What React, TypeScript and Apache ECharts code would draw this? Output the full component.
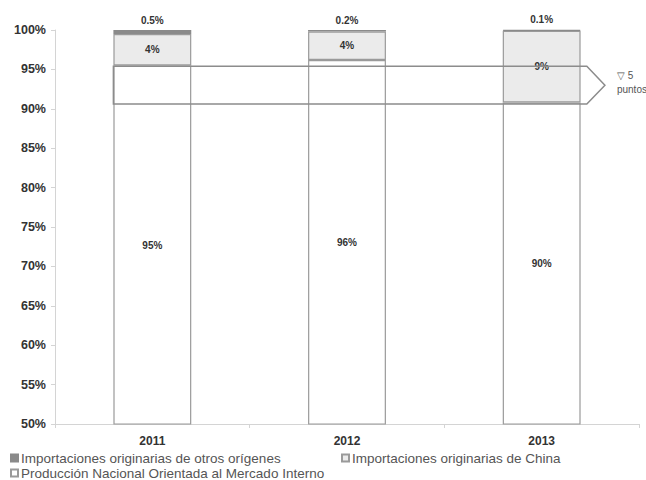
import React, { useEffect, useRef } from "react";
import * as echarts from "echarts";

const categories = ["2011", "2012", "2013"];
const produccion = [95.5, 96.2, 90.8];
const china = [4.0, 3.6, 9.1];
const otros = [0.5, 0.2, 0.1];
const produccionLabels = ["95%", "96%", "90%"];
const chinaLabels = ["4%", "4%", "9%"];
const otrosLabels = ["0.5%", "0.2%", "0.1%"];
const yTicks = { min: 50, max: 100, interval: 5 };
const arrowRange = [90.6, 95.4];
const arrowText = ["\u25BD 5", "puntos"];

const nameOtros = "Importaciones originarias de otros orígenes";
const nameChina = "Importaciones originarias de China";
const nameProd = "Producción Nacional Orientada al Mercado Interno";

const FONT = "Liberation Sans, Arial, sans-serif";

export default function App() {
  const ref = useRef<HTMLDivElement>(null);
  useEffect(() => {
    if (!ref.current) return;
    const chart = echarts.init(ref.current, null, { renderer: "svg" });
    const border = "#9a9a9a";
    const labelStyle = {
      show: true,
      fontFamily: FONT,
      fontSize: 10,
      fontWeight: "bold" as const,
      color: "#333",
    };
    const legendCommon = {
      orient: "horizontal" as const,
      icon: "rect",
      itemWidth: 7,
      itemHeight: 7,
      itemGap: 4,
      textStyle: {
        fontFamily: FONT,
        fontSize: 13.5,
        lineHeight: 14,
        color: "#555",
        padding: [0, 0, 0, -2],
      },
      padding: 0,
    };
    chart.setOption({
      animation: false,
      textStyle: { fontFamily: FONT },
      grid: { left: 55, right: 7, top: 30, bottom: 56 },
      legend: [
        { ...legendCommon, data: [nameOtros], left: 10, top: 451 },
        { ...legendCommon, data: [nameChina], left: 341, top: 451 },
        { ...legendCommon, data: [nameProd], left: 10, top: 466 },
      ],
      xAxis: {
        type: "category",
        data: categories,
        axisLine: { lineStyle: { color: "#d4d4d4", width: 1 } },
        axisTick: { show: true, length: 4, lineStyle: { color: "#d4d4d4" } },
        axisLabel: {
          fontFamily: FONT,
          fontSize: 12,
          fontWeight: "bold",
          color: "#333",
          margin: 11,
        },
      },
      yAxis: {
        type: "value",
        min: yTicks.min,
        max: yTicks.max,
        interval: yTicks.interval,
        axisLine: { show: true, lineStyle: { color: "#d4d4d4" } },
        axisTick: { show: true, length: 4, lineStyle: { color: "#d4d4d4" } },
        splitLine: { show: false },
        axisLabel: {
          formatter: "{value}%",
          fontFamily: FONT,
          fontSize: 12.5,
          fontWeight: "bold",
          color: "#333",
          margin: 9,
        },
      },
      series: [
        {
          name: nameProd,
          type: "bar",
          stack: "total",
          barWidth: "40%",
          data: produccion,
          itemStyle: { color: "#ffffff", borderColor: border, borderWidth: 1.2 },
          label: {
            ...labelStyle,
            position: "inside",
            formatter: (p: any) => produccionLabels[p.dataIndex],
          },
        },
        {
          name: nameChina,
          type: "bar",
          stack: "total",
          barWidth: "40%",
          data: china,
          itemStyle: { color: "#ebebeb", borderColor: border, borderWidth: 1.2 },
          label: {
            ...labelStyle,
            position: "inside",
            formatter: (p: any) => chinaLabels[p.dataIndex],
          },
        },
        {
          name: nameOtros,
          type: "bar",
          stack: "total",
          barWidth: "40%",
          data: otros,
          itemStyle: { color: "#8a8a8a", borderColor: "#8a8a8a", borderWidth: 1.2 },
          label: {
            ...labelStyle,
            position: "top",
            distance: 5,
            formatter: (p: any) => otrosLabels[p.dataIndex],
          },
        },
        {
          type: "custom",
          name: "arrow",
          z: 5,
          clip: false,
          silent: true,
          data: [[0, arrowRange[0], arrowRange[1]]],
          encode: { x: 0, y: [1, 2] },
          renderItem: (params: any, api: any) => {
            const top = api.coord([api.value(0), api.value(2)]);
            const bot = api.coord([api.value(0), api.value(1)]);
            const bw = api.size([1, 0])[0];
            const left = top[0] - 0.2 * bw;
            const end = top[0] + 2 * bw + 0.232 * bw;
            const tip = top[0] + 2 * bw + 0.325 * bw;
            const midY = (top[1] + bot[1]) / 2;
            return {
              type: "group",
              children: [
                {
                  type: "polygon",
                  shape: {
                    points: [
                      [left, top[1]],
                      [end, top[1]],
                      [tip, midY],
                      [end, bot[1]],
                      [left, bot[1]],
                    ],
                  },
                  style: { fill: "none", stroke: "#8c8c8c", lineWidth: 1.5 },
                },
                {
                  type: "text",
                  x: tip + 12,
                  y: midY - 10,
                  style: {
                    text: arrowText[0],
                    fontFamily: FONT,
                    fontSize: 10,
                    fill: "#555",
                    verticalAlign: "middle",
                  },
                },
                {
                  type: "text",
                  x: tip + 12,
                  y: midY + 4,
                  style: {
                    text: arrowText[1],
                    fontFamily: FONT,
                    fontSize: 10,
                    fill: "#555",
                    verticalAlign: "middle",
                  },
                },
              ],
            };
          },
        },
      ],
    });
    return () => chart.dispose();
  }, []);
  return (
    <div
      ref={ref}
      style={{ position: "absolute", left: 0, top: 0, width: 646, height: 480 }}
    />
  );
}
